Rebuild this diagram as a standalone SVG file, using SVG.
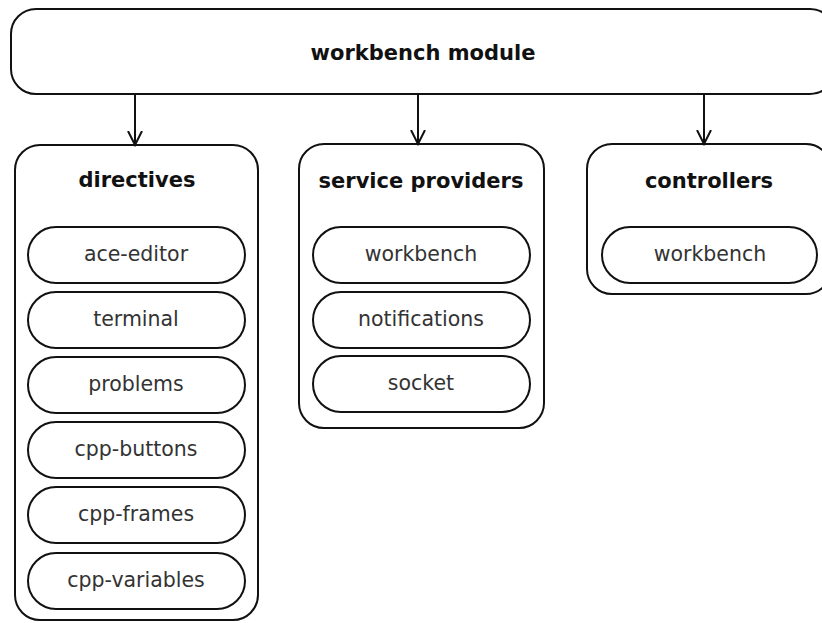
<svg xmlns="http://www.w3.org/2000/svg" width="822" height="623" viewBox="0 0 822 623">
  <style>
    .box { fill: #fff; stroke: #111; stroke-width: 2; }
    .pill { fill: #fff; stroke: #111; stroke-width: 2; }
    .title { font-family: "DejaVu Sans", Verdana, sans-serif; font-weight: bold; font-size: 21px; fill: #111; text-anchor: middle; }
    .item { font-family: "DejaVu Sans", Verdana, sans-serif; font-size: 20.5px; fill: #333; text-anchor: middle; }
    .edge { stroke: #111; stroke-width: 2; fill: none; }
  </style>
  <defs>
    <marker id="arrow" viewBox="0 0 16 16" refX="14" refY="8" markerWidth="16" markerHeight="16" markerUnits="userSpaceOnUse" orient="auto">
      <path d="M0,1 L14,8 L0,15" fill="none" stroke="#111" stroke-width="2"/>
    </marker>
  </defs>
  <rect width="822" height="623" fill="#fff"/>

  <g id="workbench-module">
    <rect class="box" x="11" y="9" width="824" height="85" rx="25" ry="25"/>
    <text class="title" x="423" y="60">workbench module</text>
  </g>

  <g id="directives">
    <rect class="box" x="15" y="145" width="243" height="475" rx="25" ry="25"/>
    <text class="title" x="137" y="187">directives</text>
    <g id="ace-editor">
      <rect class="pill" x="28" y="227" width="217" height="56" rx="28" ry="28"/>
      <text class="item" x="136" y="261">ace-editor</text>
    </g>
    <g id="terminal">
      <rect class="pill" x="28" y="292" width="217" height="56" rx="28" ry="28"/>
      <text class="item" x="136" y="326">terminal</text>
    </g>
    <g id="problems">
      <rect class="pill" x="28" y="357" width="217" height="56" rx="28" ry="28"/>
      <text class="item" x="136" y="391">problems</text>
    </g>
    <g id="cpp-buttons">
      <rect class="pill" x="28" y="422" width="217" height="56" rx="28" ry="28"/>
      <text class="item" x="136" y="456">cpp-buttons</text>
    </g>
    <g id="cpp-frames">
      <rect class="pill" x="28" y="487" width="217" height="56" rx="28" ry="28"/>
      <text class="item" x="136" y="521">cpp-frames</text>
    </g>
    <g id="cpp-variables">
      <rect class="pill" x="28" y="553" width="217" height="56" rx="28" ry="28"/>
      <text class="item" x="136" y="587">cpp-variables</text>
    </g>
  </g>

  <g id="service-providers">
    <rect class="box" x="299" y="144" width="245" height="284" rx="25" ry="25"/>
    <text class="title" x="421" y="188">service providers</text>
    <g id="sp-workbench">
      <rect class="pill" x="313" y="227" width="217" height="56" rx="28" ry="28"/>
      <text class="item" x="421" y="261">workbench</text>
    </g>
    <g id="notifications">
      <rect class="pill" x="313" y="292" width="217" height="56" rx="28" ry="28"/>
      <text class="item" x="421" y="326">notifications</text>
    </g>
    <g id="socket">
      <rect class="pill" x="313" y="356" width="217" height="56" rx="28" ry="28"/>
      <text class="item" x="421" y="390">socket</text>
    </g>
  </g>

  <g id="controllers">
    <rect class="box" x="587" y="144" width="244" height="150" rx="25" ry="25"/>
    <text class="title" x="709" y="188">controllers</text>
    <g id="ctrl-workbench">
      <rect class="pill" x="602" y="227" width="215" height="56" rx="28" ry="28"/>
      <text class="item" x="710" y="261">workbench</text>
    </g>
  </g>

  <g id="connectors">
    <line class="edge" x1="135" y1="94" x2="135" y2="145" marker-end="url(#arrow)"/>
    <line class="edge" x1="418" y1="94" x2="418" y2="144" marker-end="url(#arrow)"/>
    <line class="edge" x1="704" y1="94" x2="704" y2="144" marker-end="url(#arrow)"/>
  </g>
</svg>
